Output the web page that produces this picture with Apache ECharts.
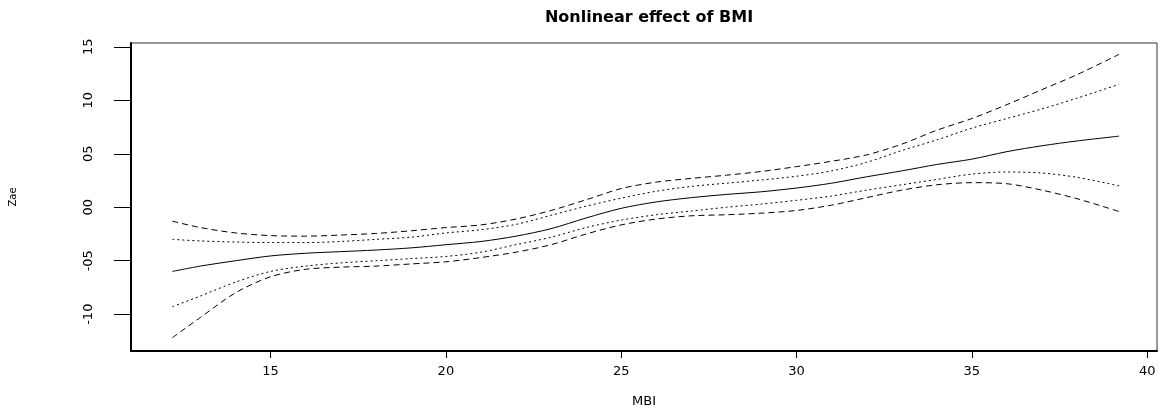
<!DOCTYPE html>
<html>
<head>
<meta charset="utf-8">
<title>Nonlinear effect of BMI</title>
<script src="https://cdn.jsdelivr.net/npm/echarts@6/dist/echarts.min.js"></script>
<style>
  html, body { margin: 0; padding: 0; background: #fff; }
  #chart { width: 1169px; height: 413px; }
</style>
</head>
<body>
<div id="chart"></div>
<script>
// values
const bmi       = [12.2, 13, 14, 15, 16, 17, 18, 19, 20, 21, 22, 23, 24, 25, 26, 27, 28, 29, 30, 31, 32, 33, 34, 35, 36, 37, 38, 39.2];
const fit       = [-0.60, -0.55, -0.50, -0.455, -0.43, -0.415, -0.40, -0.38, -0.35, -0.32, -0.27, -0.20, -0.10, -0.01, 0.05, 0.09, 0.12, 0.145, 0.18, 0.225, 0.285, 0.34, 0.40, 0.45, 0.52, 0.575, 0.62, 0.665];
const upperDash = [-0.13, -0.19, -0.24, -0.265, -0.27, -0.26, -0.245, -0.22, -0.19, -0.165, -0.11, -0.03, 0.07, 0.175, 0.235, 0.27, 0.30, 0.335, 0.38, 0.43, 0.49, 0.59, 0.72, 0.83, 0.96, 1.10, 1.24, 1.43];
const upperDot  = [-0.30, -0.315, -0.325, -0.33, -0.33, -0.32, -0.30, -0.28, -0.24, -0.21, -0.16, -0.075, 0.01, 0.085, 0.15, 0.195, 0.225, 0.255, 0.29, 0.34, 0.42, 0.53, 0.63, 0.74, 0.83, 0.92, 1.02, 1.15];
const lowerDot  = [-0.93, -0.83, -0.70, -0.60, -0.55, -0.52, -0.50, -0.48, -0.46, -0.42, -0.35, -0.28, -0.19, -0.12, -0.07, -0.035, 0.0, 0.03, 0.065, 0.105, 0.16, 0.21, 0.26, 0.31, 0.33, 0.32, 0.28, 0.20];
const lowerDash = [-1.22, -1.03, -0.80, -0.65, -0.58, -0.56, -0.55, -0.53, -0.51, -0.47, -0.42, -0.35, -0.25, -0.165, -0.11, -0.08, -0.07, -0.055, -0.03, 0.02, 0.09, 0.16, 0.21, 0.23, 0.22, 0.16, 0.08, -0.04];

const xTicks = [15, 20, 25, 30, 35, 40];
const yTicks = [-1, -0.5, 0, 0.5, 1, 1.5];
const yTickLabels = ['-10', '-05', '00', '05', '10', '15'];

const font = 'DejaVu Sans';
const myChart = echarts.init(document.getElementById('chart'));

const pts = arr => bmi.map((x, i) => [x, arr[i]]);
const line = (name, arr, type) => ({
  name: name,
  type: 'line',
  data: pts(arr),
  smooth: 0.3,
  showSymbol: false,
  silent: true,
  lineStyle: { color: '#000', width: 1, type: type }
});

const option = {
  backgroundColor: '#fff',
  animation: false,
  title: {
    text: 'Nonlinear effect of BMI',
    left: 644,
    textAlign: 'center',
    top: 5,
    textStyle: { fontFamily: font, fontSize: 16, fontWeight: 'bold', color: '#000' }
  },
  grid: {
    left: 131,
    right: 12,
    top: 43,
    bottom: 51,
    show: true,
    borderColor: '#333',
    borderWidth: 1
  },
  xAxis: {
    type: 'value',
    min: 11.02,
    max: 40.28,
    name: 'MBI',
    nameLocation: 'middle',
    nameGap: 44,
    nameTextStyle: { fontFamily: font, fontSize: 13, color: '#000' },
    axisLine: { show: true, onZero: false, lineStyle: { color: '#000', width: 2 } },
    axisTick: { show: true, length: 7, customValues: xTicks, lineStyle: { color: '#000' } },
    axisLabel: { customValues: xTicks, margin: 14, fontFamily: font, fontSize: 13, color: '#000' },
    splitLine: { show: false }
  },
  yAxis: {
    type: 'value',
    min: -1.344,
    max: 1.536,
    name: 'Zae',
    nameLocation: 'middle',
    nameRotate: 90,
    nameGap: 113,
    nameTextStyle: { fontFamily: font, fontSize: 10, color: '#000' },
    axisLine: { show: true, onZero: false, lineStyle: { color: '#000', width: 2 } },
    axisTick: { show: true, length: 17, customValues: yTicks, lineStyle: { color: '#000' } },
    axisLabel: {
      rotate: 90,
      showMinLabel: false,
      showMaxLabel: false,
      margin: 36,
      fontFamily: font,
      fontSize: 13,
      color: '#000',
      formatter: v => {
        const i = yTicks.findIndex(t => Math.abs(t - v) < 1e-6);
        return i >= 0 ? yTickLabels[i] : '';
      }
    },
    splitLine: { show: false }
  },
  series: [
    line('upper dashed', upperDash, [6, 4]),
    line('upper dotted', upperDot, [2, 3]),
    line('fit', fit, 'solid'),
    line('lower dotted', lowerDot, [2, 3]),
    line('lower dashed', lowerDash, [6, 4])
  ]
};

myChart.setOption(option);
</script>
</body>
</html>
